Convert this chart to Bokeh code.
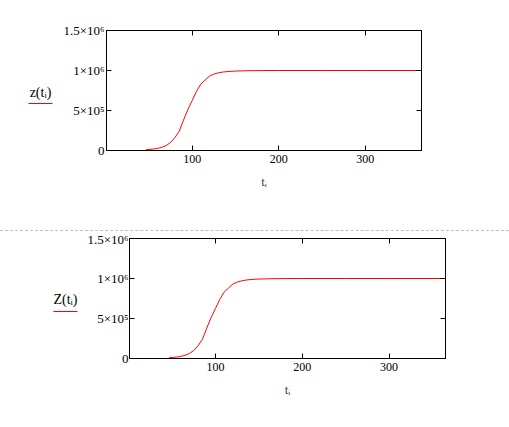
from bokeh.plotting import figure
from bokeh.layouts import column, row
from bokeh.models import LinearAxis, FixedTicker, Range1d, Div
from bokeh.core.properties import value
from bokeh.embed import file_html
from bokeh.resources import INLINE

# ---- data ----
t_days = [1, 46, 47, 50, 55, 60, 65, 70, 75, 80, 85, 90, 95, 100, 105, 110,
          115, 120, 125, 130, 135, 140, 145, 150, 160, 170, 180, 200, 250, 300, 365]
z_vals = [0, 0, 11000, 13000, 18000, 26000, 40000, 62000, 100000, 160000,
          240000, 380000, 510000, 625000, 740000, 830000, 880000, 930000,
          955000, 970000, 980000, 986000, 990000, 993000, 996000, 998000,
          999000, 1000000, 1000000, 1000000, 1000000]
Z_vals = list(z_vals)

x_ticks = [100, 200, 300]
y_ticks = [0, 500000, 1000000, 1500000]
y_tick_labels = {0: "0", 500000: "5\u00d710\u2075", 1000000: "1\u00d710\u2076",
                 1500000: "1.5\u00d710\u2076"}
x_label = "t\u1d62"
y_label_top = "z(t\u1d62)"
y_label_bottom = "Z(t\u1d62)"

FONT = "Liberation Serif"
X0, X1 = 1, 365
Y0, Y1 = 0, 1500000
FW = 317
PAGE_W = 509


def make_plot(yvals, width, height, left, top, bottom, y_standoff):
    right = width - left - FW
    p = figure(width=width, height=height, output_backend="svg",
               toolbar_location=None, x_range=Range1d(X0, X1),
               y_range=Range1d(Y0, Y1), x_axis_location=None,
               y_axis_location=None,
               min_border_left=left, min_border_right=right,
               min_border_top=top, min_border_bottom=bottom)
    if "frame_align" in p.properties():
        p.frame_align = False
    p.xgrid.visible = False
    p.ygrid.visible = False
    p.outline_line_color = "black"
    p.outline_line_width = 1
    p.background_fill_color = "white"
    p.border_fill_color = "white"

    def style(ax, ticks, show_labels, standoff, size):
        ax.ticker = FixedTicker(ticks=ticks)
        ax.major_tick_in = 5
        ax.major_tick_out = 0
        ax.minor_tick_line_color = None
        ax.axis_line_color = "black"
        ax.major_tick_line_color = "black"
        ax.major_tick_line_width = 1
        ax.major_label_text_font = FONT
        ax.major_label_text_font_size = size if show_labels else "0px"
        ax.major_label_text_color = "black" if show_labels else None
        ax.major_label_standoff = standoff

    xb = LinearAxis()
    style(xb, x_ticks, True, 4, "12px")
    xb.axis_label = x_label
    xb.axis_label_text_font = FONT
    xb.axis_label_text_font_size = "13px"
    xb.axis_label_text_font_style = "normal"
    xb.axis_label_standoff = 8
    p.add_layout(xb, "below")

    xt = LinearAxis()
    style(xt, x_ticks, False, 0, "12px")
    p.add_layout(xt, "above")

    yl = LinearAxis()
    style(yl, y_ticks, True, y_standoff, "13px")
    yl.major_label_overrides = y_tick_labels
    p.add_layout(yl, "left")

    yr = LinearAxis()
    style(yr, y_ticks, False, 0, "12px")
    p.add_layout(yr, "right")

    p.line(t_days, yvals, line_color="#ff0000", line_width=1)
    return p


def make_label(text, width, height, cx, cy, uy):
    """Mathcad-style trace name with the trace's red line beneath it."""
    lf = figure(width=width, height=height, output_backend="svg",
                toolbar_location=None, x_range=Range1d(0, width),
                y_range=Range1d(0, height), x_axis_location=None,
                y_axis_location=None, min_border=0)
    if "frame_align" in lf.properties():
        lf.frame_align = False
    lf.xgrid.visible = False
    lf.ygrid.visible = False
    lf.outline_line_color = None
    lf.background_fill_color = "white"
    lf.border_fill_color = "white"
    lf.text(x=[cx], y=[height - cy], text=[text], text_font=value(FONT),
            text_font_size="14px", text_align="center",
            text_baseline="middle", text_color="black")
    lf.segment(x0=[cx - 12], y0=[height - uy], x1=[cx + 12],
               y1=[height - uy], line_color="#ff0000", line_width=1)
    return lf


H1, H2 = 230, 192
LW1, LW2 = 60, 84
l1 = make_label(y_label_top, LW1, H1, 40, 92, 103)
p1 = make_plot(z_vals, PAGE_W - LW1, H1, 104 - LW1, 30, 80, 2)
sep = Div(text="", width=PAGE_W, height=1, margin=0,
          styles={"border-top": "1px dashed #c0c0c0", "height": "0px",
                  "box-sizing": "border-box"})
l2 = make_label(y_label_bottom, LW2, H2, 65, 68, 80)
p2 = make_plot(Z_vals, PAGE_W - LW2, H2, 128 - LW2, 7, 65, 1)

layout = column(row(l1, p1, spacing=0), sep, row(l2, p2, spacing=0),
                spacing=0)
open("out.html", "w").write(file_html(layout, INLINE))
